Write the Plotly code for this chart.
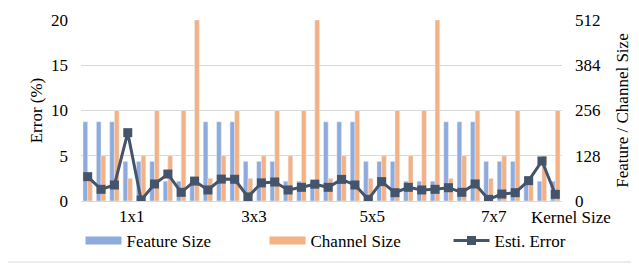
import plotly.graph_objects as go

# ---- data ----
categories = list(range(36))
feature_size = [224, 224, 224, 112, 112, 112, 56, 56, 56,
                224, 224, 224, 112, 112, 112, 56, 56, 56,
                224, 224, 224, 112, 112, 112, 56, 56, 56,
                224, 224, 224, 112, 112, 112, 56, 56, 56]
channel_size = [64, 128, 256, 64, 128, 256, 128, 256, 512,
                64, 128, 256, 64, 128, 256, 128, 256, 512,
                64, 128, 256, 64, 128, 256, 128, 256, 512,
                64, 128, 256, 64, 128, 256, 64, 128, 256]
esti_error = [2.69, 1.29, 1.77, 7.55, 0.10, 1.88, 2.98, 0.96, 2.20,
              1.22, 2.42, 2.40, 0.45, 2.00, 2.10, 1.22, 1.51, 1.86,
              1.51, 2.39, 1.77, 0.18, 2.14, 0.92, 1.51, 1.22, 1.29,
              1.47, 0.96, 1.88, 0.18, 0.77, 0.92, 2.25, 4.42, 0.74]
kernel_pos = [3.3, 12.45, 21.3, 30.4]
kernel_labels = ["1x1", "3x3", "5x5", "7x7"]

FONT = "Liberation Serif"
BLUE = "#8FAADC"
ORANGE = "#F4B183"
DARK = "#44546A"
GRID = "#D9D9D9"

OFF = 8  # page body margin offset
W, H = 639 - OFF, 268 - OFF
L, R, T, B = 81 - OFF, 77, 20 - OFF, 67
pw, ph = W - L - R, H - T - B

def px_x(x):
    return (x - OFF - L) / pw

def px_y(y):
    return (H - B - (y - OFF)) / ph

fig = go.Figure()
# legend-only swatches (wide rectangles like the reference legend)
fig.add_trace(go.Scatter(x=[None], y=[None], mode="lines", name="Feature Size",
                         line=dict(color=BLUE, width=8), yaxis="y",
                         legendgroup="f", hoverinfo="skip"))
fig.add_trace(go.Scatter(x=[None], y=[None], mode="lines", name="Channel Size",
                         line=dict(color=ORANGE, width=8), yaxis="y",
                         legendgroup="c", hoverinfo="skip"))
fig.add_trace(go.Bar(x=categories, y=feature_size, name="Feature Size",
                     marker_color=BLUE, yaxis="y", showlegend=False,
                     legendgroup="f"))
fig.add_trace(go.Bar(x=categories, y=channel_size, name="Channel Size",
                     marker_color=ORANGE, yaxis="y", showlegend=False,
                     legendgroup="c"))
fig.add_trace(go.Scatter(x=categories, y=esti_error, name="Esti. Error",
                         mode="lines+markers", yaxis="y2",
                         line=dict(color=DARK, width=3),
                         marker=dict(symbol="square", size=9, color=DARK)))

fig.update_layout(
    width=W, height=H,
    margin=dict(l=L, r=R, t=T, b=B, autoexpand=False),
    paper_bgcolor="white", plot_bgcolor="white",
    font=dict(family=FONT, size=17, color="#000000"),
    barmode="group", bargap=0.3, bargroupgap=0,
    showlegend=True,
    legend=dict(orientation="h", x=-0.001, xanchor="left",
                y=px_y(241), yanchor="middle",
                font=dict(family=FONT, size=17, color="#000000"),
                entrywidth=133, entrywidthmode="pixels",
                traceorder="normal", itemwidth=36, tracegroupgap=0,
                bgcolor="rgba(0,0,0,0)"),
    xaxis=dict(range=[-0.5, 35.5], tickmode="array", tickvals=kernel_pos,
               ticktext=kernel_labels, showgrid=False, zeroline=False,
               showline=True, linecolor=GRID, linewidth=1, ticks="",
               automargin=False,
               tickfont=dict(family=FONT, size=17, color="#000000")),
    yaxis=dict(range=[0, 512], side="right", tickvals=[0, 128, 256, 384, 512],
               showgrid=True, gridcolor=GRID, gridwidth=1, zeroline=False,
               ticks="", ticklabelstandoff=12, automargin=False,
               title=dict(text="Feature / Channel Size", standoff=16,
                          font=dict(family=FONT, size=17))),
    yaxis2=dict(range=[0, 20], side="left", overlaying="y",
                tickvals=[0, 5, 10, 15, 20], showgrid=False, zeroline=False,
                ticks="", ticklabelstandoff=12, automargin=False,
                title=dict(text="Error (%)", standoff=4,
                           font=dict(family=FONT, size=17))),
    annotations=[dict(text="Kernel Size", xref="paper", yref="paper",
                      x=px_x(571), y=px_y(217), xanchor="center",
                      yanchor="middle", showarrow=False,
                      font=dict(family=FONT, size=17, color="#000000"))],
    shapes=[dict(type="rect", xref="paper", yref="paper",
                 x0=px_x(3), x1=px_x(636), y0=px_y(262), y1=px_y(1),
                 line=dict(color=GRID, width=1), fillcolor="rgba(0,0,0,0)",
                 layer="below")],
)

fig.write_html("out.html")
